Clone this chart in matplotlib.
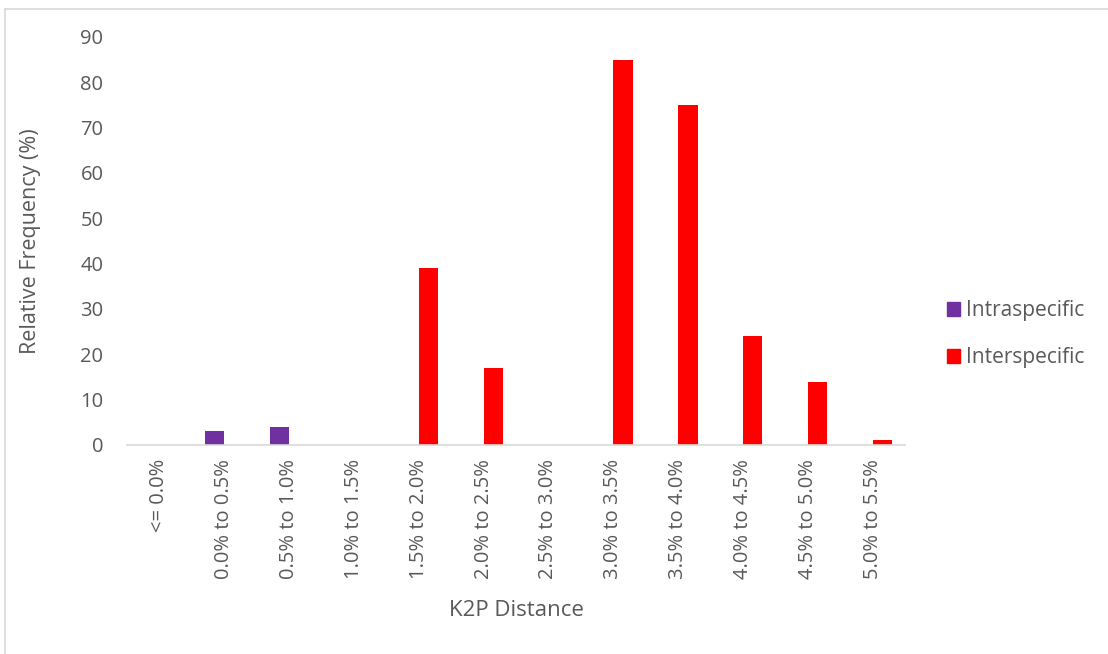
import numpy as np
import matplotlib.pyplot as plt
from matplotlib.patches import Patch
from matplotlib.lines import Line2D

categories = ['<= 0.0%', '0.0% to 0.5%', '0.5% to 1.0%', '1.0% to 1.5%',
              '1.5% to 2.0%', '2.0% to 2.5%', '2.5% to 3.0%', '3.0% to 3.5%',
              '3.5% to 4.0%', '4.0% to 4.5%', '4.5% to 5.0%', '5.0% to 5.5%']
intraspecific = [0, 3, 4, 0, 0, 0, 0, 0, 0, 0, 0, 0]
interspecific = [0, 0, 0, 0, 39, 17, 0, 85, 75, 24, 14, 1]

plt.rcParams['font.family'] = ['Open Sans', 'DejaVu Sans']
grey = '#595959'

fig = plt.figure(figsize=(11.08, 6.54), dpi=100)
ax = fig.add_axes([127 / 1108, 1 - 445 / 654, 778 / 1108, 408 / 654])

x = np.arange(len(categories))
w = 0.3
ax.bar(x - w / 2, intraspecific, w, color='#7030A0', label='Intraspecific')
ax.bar(x + w / 2, interspecific, w, color='#FF0000', label='Interspecific')

ax.set_xlim(-0.5, len(categories) - 0.5)
ax.set_ylim(0, 90)
ax.set_yticks(range(0, 91, 10))
ax.set_xticks(x)
ax.set_xticklabels(categories, rotation=90, ha='center', va='top')
ax.tick_params(axis='both', length=0, labelsize=14.5, colors=grey)
ax.tick_params(axis='x', pad=10)
ax.tick_params(axis='y', pad=17)

for side in ['top', 'right', 'left']:
    ax.spines[side].set_visible(False)
ax.spines['bottom'].set_color('#D9D9D9')
ax.spines['bottom'].set_linewidth(1.2)

ax.set_xlabel('K2P Distance', fontsize=16, color=grey, va='top')
ax.xaxis.set_label_coords(0.5, (445 - 600) / 408)
ax.set_ylabel('Relative Frequency (%)', fontsize=15.5, color=grey)
ax.yaxis.set_label_coords((41 - 127) / 778, 0.5)

handles = [Patch(color='#7030A0', label='Intraspecific'),
           Patch(color='#FF0000', label='Interspecific')]
fig.legend(handles=handles, loc='center left', bbox_to_anchor=(928 / 1108, 1 - 334 / 654),
           frameon=False, fontsize=15, labelcolor=grey, handlelength=0.65, handleheight=0.65,
           handletextpad=0.25, labelspacing=1.25)

# chart frame
fig.add_artist(Line2D([5 / 1108, 1], [1 - 9 / 654, 1 - 9 / 654], color='#D9D9D9', lw=1.2))
fig.add_artist(Line2D([5 / 1108, 5 / 1108], [0, 1 - 9 / 654], color='#D9D9D9', lw=1.2))

fig.savefig('out.png', dpi=100)
